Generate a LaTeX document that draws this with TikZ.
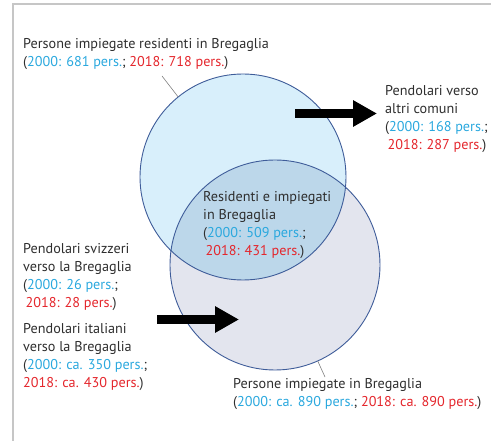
\documentclass[tikz,border=0pt]{standalone}
\usepackage{fontspec}
\setmainfont{PT Sans}
\usetikzlibrary{arrows.meta}

\definecolor{oldblue}{HTML}{2AA8DE}
\definecolor{newred}{HTML}{E4262C}
\definecolor{txtgray}{HTML}{2E2E2E}
\definecolor{resfill}{HTML}{D8EFFB}
\definecolor{impfill}{HTML}{E3E5EE}
\definecolor{bothfill}{HTML}{BCD7EA}
\definecolor{rim}{HTML}{3E5C99}
\definecolor{framegray}{HTML}{C6C6C6}

\newcommand{\yrold}[1]{\textcolor{oldblue}{#1}}
\newcommand{\yrnew}[1]{\textcolor{newred}{#1}}

\begin{document}
\begin{tikzpicture}[x=1pt,y=-1pt,
    lbl/.style={anchor=base west,align=left,inner sep=0pt,text=txtgray,
      font=\fontsize{14.2}{18}\selectfont},
    venn/.style={circle,inner sep=0pt,minimum size=#1},
    rimline/.style={draw=rim,line width=0.9pt},
    leader/.style={draw=gray,line width=0.6pt},
    fat/.style={line width=9pt,-{Triangle[length=24pt,width=25pt]}}]
      \useasboundingbox (0,0) rectangle (491,441);
      \draw[framegray,line width=2pt] (13,441) -- (13,4) -- (491,4);

      % the two sets
      \node[venn=210pt,fill=impfill] (imp) at (275,265) {};
      \node[venn=206pt,fill=resfill] (res) at (243,177) {};
      \begin{scope}
        \clip (res.center) circle[radius=103];
        \fill[bothfill] (imp.center) circle[radius=105];
      \end{scope}
      \draw[rimline] (imp.center) circle[radius=105];
      \draw[rimline] (res.center) circle[radius=103];

      % labels (placed at the baseline of their last line)
      \node[lbl] (resl) at (23,67) {Persone impiegate residenti in Bregaglia\\
        (\yrold{2000: 681 pers.}; \yrnew{2018: 718 pers.})};
      \node[lbl] (outl) at (385,150) {Pendolari verso\\altri comuni\\
        (\yrold{2000: 168 pers.};\\ \yrnew{\,2018: 287 pers.})};
      \node[lbl] (bothl) at (203,256) {Residenti e impiegati\\in Bregaglia\\
        (\yrold{2000: 509 pers.};\\ \yrnew{\,2018: 431 pers.})};
      \node[lbl] (chl) at (23,308) {Pendolari svizzeri\\verso la Bregaglia\\
        (\yrold{2000: 26 pers.};\\ \yrnew{\,2018: 28 pers.})};
      \node[lbl] (itl) at (23,388) {Pendolari italiani\\verso la Bregaglia\\
        (\yrold{2000: ca. 350 pers.};\\ \yrnew{2018: ca. 430 pers.})};
      \node[lbl] (impl) at (233,407) {Persone impiegate in Bregaglia\\
        (\yrold{2000: ca. 890 pers.}; \yrnew{2018: ca. 890 pers.})};

      % leaders
      \coordinate (resend) at (162,76);
      \coordinate (impend) at (325,377);
      \draw[leader] (res.129) -- (resend);
      \draw[leader] (imp.-66) -- (impend);

      % commuter flows
      \coordinate (outa) at (295,113.5);
      \coordinate (outb) at (377,113.5);
      \coordinate (ina) at (157,319.5);
      \coordinate (inb) at (239,319.5);
      \draw[fat] (outa) -- (outb);
      \draw[fat] (ina) -- (inb);
    \end{tikzpicture}
\end{document}
